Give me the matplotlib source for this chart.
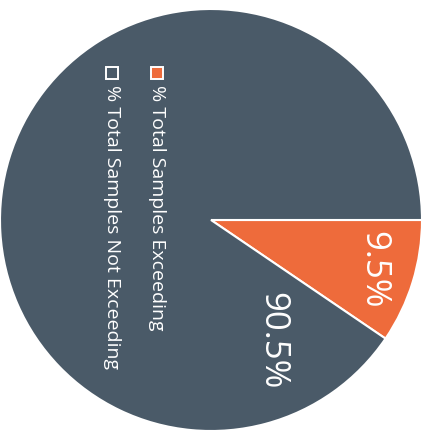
import matplotlib
matplotlib.use("Agg")
import matplotlib.pyplot as plt
from matplotlib.patches import Rectangle

# Share of total samples
categories = ["% Total Samples Exceeding", "% Total Samples Not Exceeding"]
shares = [9.5, 90.5]
value_labels = ["9.5%", "90.5%"]

slice_colors = ["#ee6b3b", "#4a5a68"]
legend_fills = ["#ee6b3b", "#4a5a68"]

W, H, DPI = 436, 431, 100
fig = plt.figure(figsize=(W / DPI, H / DPI), dpi=DPI)
ax = fig.add_axes([0, 0, 1, 1])

# pie geometry in pixels (centre and radius), converted to data units
cx, cy, r = 211, 221, 211
ax.set_xlim(-cx / r, (W - cx) / r)
ax.set_ylim(-(H - cy) / r, cy / r)
ax.set_aspect("equal")
ax.axis("off")

ax.pie(shares, colors=slice_colors, startangle=0, counterclock=False,
       radius=1.0, center=(0, 0), frame=True,
       wedgeprops=dict(edgecolor="white", linewidth=1.5))
ax.axis("off")

font = ["Open Sans", "DejaVu Sans"]


def px(x, y):
    return (x - cx) / r, (cy - y) / r


# slice value labels, rotated with the chart
for lab, (x, y) in zip(value_labels, [(373, 270), (272, 341)]):
    ax.text(*px(x, y), lab, rotation=-90, ha="center", va="center",
            color="white", fontsize=25, family=font)

# legend, rotated as well
for i, (cat, fill) in enumerate(zip(categories, legend_fills)):
    lx = [157, 112][i]
    sq = 12 / r
    x0, y0 = px(lx - 6, 80)
    ax.add_patch(Rectangle((x0, y0), sq, sq, facecolor=fill,
                           edgecolor="white", linewidth=1.4, zorder=5))
    ax.text(*px(lx, 85), cat, rotation=-90, ha="center", va="top",
            color="white", fontsize=14, family=font)

fig.savefig("out.png", dpi=DPI)
